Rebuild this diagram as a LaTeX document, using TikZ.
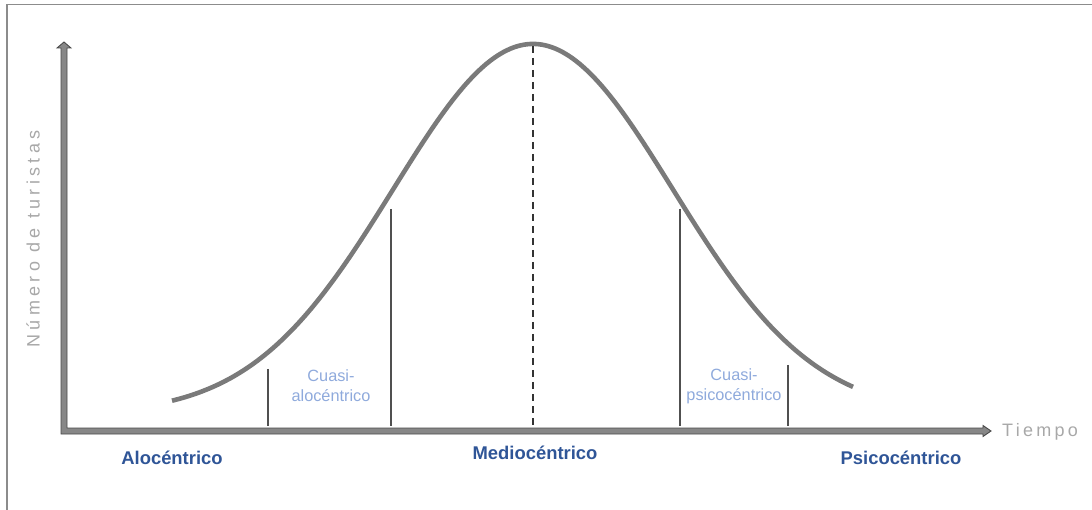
\documentclass[tikz,border=0pt]{standalone}
\usepackage{fontspec}
\setmainfont{Liberation Sans}
\newfontfamily\spacedfont[LetterSpace=18]{Liberation Sans}
\newfontfamily\widefont[LetterSpace=24]{Liberation Sans}
\definecolor{framegray}{HTML}{8C8C8C}
\definecolor{axisfill}{HTML}{878787}
\definecolor{axisdraw}{HTML}{4A4A4A}
\definecolor{curvegray}{HTML}{7A7A7A}
\definecolor{tickgray}{HTML}{505050}
\definecolor{labelgray}{HTML}{A8A8A8}
\definecolor{mainblue}{HTML}{2F5597}
\definecolor{lightblue}{HTML}{8FAADC}
\tikzset{
  framestyle/.style={draw=framegray, line width=1.6pt},
  axisstyle/.style={fill=axisfill, draw=axisdraw, line width=0.9pt, line join=miter},
  curvestyle/.style={draw=curvegray, line width=4.6pt},
  tickline/.style={draw=tickgray, line width=1.8pt},
  meanline/.style={draw=black!80, line width=1.6pt, dash pattern=on 7pt off 5pt},
  catlabel/.style={font=\bfseries\fontsize{18.4}{20}\selectfont, text=mainblue},
  sublabel/.style={font=\fontsize{16.3}{20}\selectfont, text=lightblue, align=center},
  axlabel/.style={text=labelgray}
}
\begin{document}
\begin{tikzpicture}[x=1pt,y=-1pt]
\useasboundingbox (0,0) rectangle (1092,510);
% frame
\draw[framestyle] (7,510) -- (7,4.5) -- (1092,4.5);
% axes (block arrows)
\path[axisstyle] (61,434) -- (61,48) -- (57,48) -- (64,42) -- (71,48) -- (67,48)
  -- (67,428) -- (983,428) -- (983,425.5) -- (991,431) -- (983,436.5) -- (983,434) -- cycle;
% curve
\draw[curvestyle] plot[domain=172:853, samples=200, smooth]
  (\x, {44+370*(1-exp(-0.5*((\x-533)/140)^2))});
% dashed mean line
\coordinate (mtop) at (533,46);
\coordinate (mbot) at (533,426);
\draw[meanline] (mtop) -- (mbot);
% tick lines
\coordinate (a1) at (268,369); \coordinate (a2) at (268,426);
\coordinate (b1) at (391,209); \coordinate (b2) at (391,426);
\coordinate (c1) at (680,209); \coordinate (c2) at (680,426);
\coordinate (d1) at (788,365); \coordinate (d2) at (788,426);
\draw[tickline] (a1) -- (a2);
\draw[tickline] (b1) -- (b2);
\draw[tickline] (c1) -- (c2);
\draw[tickline] (d1) -- (d2);
% labels
\node[sublabel] (qa) at (331,386) {Cuasi-\\alocéntrico};
\node[sublabel] (qp) at (734,386) {Cuasi-\\psicocéntrico};
\node[catlabel] (alo) at (172,458) {Alocéntrico};
\node[catlabel] (med) at (535,453) {Mediocéntrico};
\node[catlabel] (psi) at (901,458) {Psicocéntrico};
\node[axlabel, font=\spacedfont\fontsize{18}{20}\selectfont] (tie) at (1040,432) {Tiempo};
\node[axlabel, font=\widefont\fontsize{18}{20}\selectfont, rotate=90] (num) at (33,239) {Número de turistas};
\end{tikzpicture}
\end{document}
